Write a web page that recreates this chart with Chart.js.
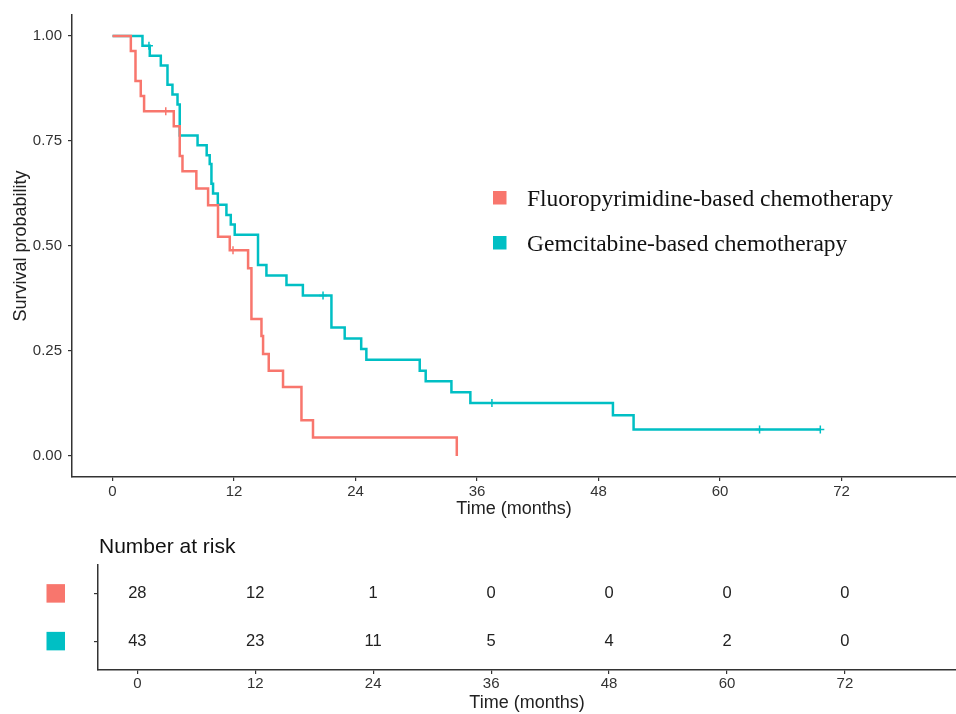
<!DOCTYPE html>
<html>
<head>
<meta charset="utf-8">
<script src="https://cdn.jsdelivr.net/npm/chart.js@4.4.1/dist/chart.umd.min.js"></script>
<style>
body { margin: 0; background: #fff; }
#wrap { position: relative; width: 956px; height: 714px; }
#km { position: absolute; left: 0; top: 0; }
#risk { position: absolute; left: 0; top: 520px; }
</style>
</head>
<body>
<div id="wrap">
<canvas id="km" width="956" height="520"></canvas>
<canvas id="risk" width="956" height="194"></canvas>
</div>
<script>
// groups
var groupNames = ['Fluoropyrimidine-based chemotherapy', 'Gemcitabine-based chemotherapy'];
var groupColors = ['#F8766D', '#00BFC4'];

// KM steps (months / survival)
var fluoroTime = [0, 1.81, 2.27, 2.79, 3.12, 6.05, 6.64, 6.91, 8.28, 9.44, 10.42, 11.58, 13.39, 13.72, 14.71, 14.87, 15.43, 16.84, 18.66, 19.8, 34.0];
var fluoroSurv = [1, 0.964, 0.893, 0.857, 0.821, 0.785, 0.714, 0.678, 0.637, 0.597, 0.522, 0.490, 0.447, 0.326, 0.286, 0.243, 0.203, 0.164, 0.085, 0.044, 0];
var fluoroCensorTime = [5.26, 11.9];
var fluoroCensorSurv = [0.821, 0.490];

var gemTime = [0, 2.96, 3.68, 4.77, 5.43, 5.92, 6.42, 6.64, 8.40, 9.30, 9.60, 9.77, 9.93, 10.40, 11.25, 11.68, 12.07, 14.37, 15.20, 17.18, 18.80, 21.62, 22.93, 24.56, 25.07, 30.34, 30.93, 33.47, 35.34, 49.42, 51.46, 69.9];
var gemSurv = [1, 0.977, 0.953, 0.930, 0.884, 0.861, 0.837, 0.763, 0.740, 0.716, 0.695, 0.648, 0.625, 0.598, 0.574, 0.551, 0.527, 0.455, 0.430, 0.407, 0.382, 0.306, 0.280, 0.255, 0.229, 0.203, 0.178, 0.152, 0.126, 0.097, 0.063, 0.063];
var gemCensorTime = [3.6, 20.79, 37.47, 63.9, 69.9];
var gemCensorSurv = [0.977, 0.382, 0.126, 0.063, 0.063];

// axes + risk table
var timeTicks = [0, 12, 24, 36, 48, 60, 72];
var survTicks = [0, 0.25, 0.5, 0.75, 1];
var riskFluoro = [28, 12, 1, 0, 0, 0, 0];
var riskGem = [43, 23, 11, 5, 4, 2, 0];

var xMin = -4, xMax = 83.3;
var axisColor = '#333';

Chart.defaults.font.family = "'Liberation Sans', Arial, sans-serif";
Chart.defaults.color = '#333';

function pts(xs, ys) {
	return xs.map(function (x, i) { return {x: x, y: ys[i]}; });
}

function kmLine(label, color, xs, ys) {
	return {
		label: label, data: pts(xs, ys), borderColor: color, backgroundColor: color,
		borderWidth: 2.5, stepped: true, pointRadius: 0, fill: false
	};
}

function censor(color, xs, ys) {
	return {
		label: '', data: pts(xs, ys), showLine: false, borderColor: color,
		pointStyle: 'cross', pointRadius: 4, borderWidth: 1.5
	};
}

var legendPlugin = {
	id: 'kmLegend',
	afterDraw: function (chart) {
		var ctx = chart.ctx;
		ctx.save();
		ctx.font = "23.5px 'Liberation Serif', 'Times New Roman', serif";
		ctx.textBaseline = 'alphabetic';
		ctx.textAlign = 'left';
		[0, 1].forEach(function (i) {
			var ds = chart.data.datasets[i];
			var cy = 197.5 + i * 45;
			ctx.fillStyle = ds.borderColor;
			ctx.fillRect(493, cy - 6.5, 13.5, 13.5);
			ctx.fillStyle = '#111';
			ctx.fillText(ds.label, 527, cy + 8.5);
		});
		ctx.restore();
	}
};

new Chart(document.getElementById('km'), {
	type: 'line',
	data: {
		datasets: [
			kmLine(groupNames[0], groupColors[0], fluoroTime, fluoroSurv),
			kmLine(groupNames[1], groupColors[1], gemTime, gemSurv),
			censor(groupColors[0], fluoroCensorTime, fluoroCensorSurv),
			censor(groupColors[1], gemCensorTime, gemCensorSurv)
		]
	},
	options: {
		responsive: false,
		animation: false,
		layout: {autoPadding: false, padding: {top: 12, left: 0, right: 0, bottom: 0}},
		plugins: {legend: {display: false}, tooltip: {enabled: false}},
		scales: {
			x: {
				type: 'linear', min: xMin, max: xMax,
				afterBuildTicks: function (s) { s.ticks = timeTicks.map(function (v) { return {value: v}; }); },
				afterFit: function (s) { s.height = 43; s.paddingLeft = 0; s.paddingRight = 0; },
				grid: {drawOnChartArea: false, tickLength: 4, color: axisColor, lineWidth: 1.2},
				border: {display: true, color: axisColor, width: 1.5},
				ticks: {font: {size: 15}, padding: 2, maxRotation: 0, color: '#333'},
				title: {display: true, text: 'Time (months)', font: {size: 18}, color: '#222', padding: 0}
			},
			y: {
				type: 'linear', min: -0.05, max: 1.05,
				afterBuildTicks: function (s) { s.ticks = survTicks.map(function (v) { return {value: v}; }); },
				afterFit: function (s) { s.width = 72; },
				grid: {drawOnChartArea: false, tickLength: 4, color: axisColor, lineWidth: 1.2},
				border: {display: true, color: axisColor, width: 1.5},
				ticks: {font: {size: 15}, padding: 6, color: '#333', callback: function (v) { return v.toFixed(2); }},
				title: {display: true, text: 'Survival probability', font: {size: 18}, color: '#222', padding: {top: 10, bottom: 0}}
			}
		}
	},
	plugins: [legendPlugin]
});

// risk table
var riskPlugin = {
	id: 'riskText',
	afterDatasetsDraw: function (chart) {
		var ctx = chart.ctx;
		ctx.save();
		ctx.font = "16.5px 'Liberation Sans', Arial, sans-serif";
		ctx.fillStyle = '#222';
		ctx.textAlign = 'center';
		ctx.textBaseline = 'middle';
		chart.data.datasets.forEach(function (ds, i) {
			var meta = chart.getDatasetMeta(i);
			meta.data.forEach(function (el, j) {
				ctx.fillText(String(ds.counts[j]), el.x, el.y);
			});
			var y = chart.scales.y.getPixelForValue(ds.row);
			ctx.fillStyle = ds.swatch;
			ctx.fillRect(46.5, y - 9.5, 18.5, 18.5);
			ctx.fillStyle = '#222';
		});
		ctx.font = "21px 'Liberation Sans', Arial, sans-serif";
		ctx.textAlign = 'left';
		ctx.textBaseline = 'alphabetic';
		ctx.fillStyle = '#111';
		ctx.fillText('Number at risk', chart.chartArea.left + 1, 33);
		ctx.restore();
	}
};

function riskRow(counts, row, color) {
	return {
		data: timeTicks.map(function (t) { return {x: t, y: row}; }),
		counts: counts, row: row, swatch: color,
		pointRadius: 0, showLine: false
	};
}

new Chart(document.getElementById('risk'), {
	type: 'scatter',
	data: {
		datasets: [
			riskRow(riskFluoro, 1, groupColors[0]),
			riskRow(riskGem, 2, groupColors[1])
		]
	},
	options: {
		responsive: false,
		animation: false,
		layout: {autoPadding: false, padding: {top: 45, left: 0, right: 0, bottom: 0}},
		plugins: {legend: {display: false}, tooltip: {enabled: false}},
		scales: {
			x: {
				type: 'linear', min: xMin, max: xMax,
				afterBuildTicks: function (s) { s.ticks = timeTicks.map(function (v) { return {value: v}; }); },
				afterFit: function (s) { s.height = 44; s.paddingLeft = 0; s.paddingRight = 0; },
				grid: {drawOnChartArea: false, tickLength: 4, color: axisColor, lineWidth: 1.2},
				border: {display: true, color: axisColor, width: 1.5},
				ticks: {font: {size: 15}, padding: 1, maxRotation: 0, color: '#333'},
				title: {display: true, text: 'Time (months)', font: {size: 18}, color: '#222', padding: 0}
			},
			y: {
				type: 'linear', min: 0.4, max: 2.6, reverse: true,
				afterBuildTicks: function (s) { s.ticks = [{value: 1}, {value: 2}]; },
				afterFit: function (s) { s.width = 98; },
				grid: {drawOnChartArea: false, tickLength: 4, color: axisColor, lineWidth: 1.2},
				border: {display: true, color: axisColor, width: 1.5},
				ticks: {callback: function () { return ''; }}
			}
		}
	},
	plugins: [riskPlugin]
});
</script>
</body>
</html>
